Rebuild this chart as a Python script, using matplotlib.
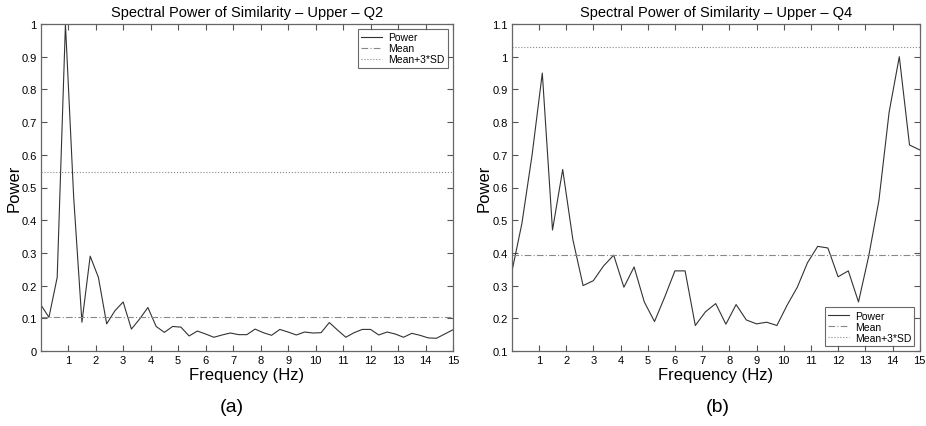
import numpy as np
import matplotlib
matplotlib.use("Agg")
import matplotlib.pyplot as plt

plt.rcParams['font.family'] = ['Liberation Sans', 'DejaVu Sans']

# Panel (a) data: frequency step 0.3 Hz
freq_a = [round(0.3 * i, 2) for i in range(51)]
power_a = [0.142, 0.103, 0.225, 1.0, 0.47, 0.088, 0.29, 0.225, 0.083, 0.123,
           0.15, 0.067, 0.098, 0.133, 0.075, 0.057, 0.075, 0.073, 0.046, 0.061,
           0.052, 0.042, 0.049, 0.055, 0.05, 0.05, 0.067, 0.056, 0.048, 0.066,
           0.058, 0.049, 0.058, 0.055, 0.056, 0.087, 0.064, 0.042, 0.056, 0.066,
           0.066, 0.049, 0.058, 0.052, 0.042, 0.054, 0.048, 0.04, 0.039, 0.052,
           0.065]
mean_a = 0.103
thr_a = 0.548

# Panel (b) data: frequency step 0.375 Hz
freq_b = [0.375 * i for i in range(41)]
power_b = [0.34, 0.49, 0.70, 0.95, 0.47, 0.655, 0.44, 0.30, 0.315, 0.36,
           0.393, 0.295, 0.357, 0.25, 0.19, 0.265, 0.345, 0.345, 0.178, 0.22,
           0.245, 0.182, 0.242, 0.195, 0.183, 0.188, 0.178, 0.24, 0.295, 0.37,
           0.42, 0.415, 0.327, 0.345, 0.25, 0.39, 0.56, 0.83, 1.0, 0.73,
           0.715]
mean_b = 0.395
thr_b = 1.03

titles = ["Spectral Power of Similarity \u2013 Upper \u2013 Q2",
          "Spectral Power of Similarity \u2013 Upper \u2013 Q4"]
xticks = list(range(1, 16))
yticks_a = [round(0.1 * i, 1) for i in range(11)]
yticks_b = [round(0.1 * i, 1) for i in range(1, 12)]
ylabels_a = ["0", "0.1", "0.2", "0.3", "0.4", "0.5", "0.6", "0.7", "0.8", "0.9", "1"]
ylabels_b = ["0.1", "0.2", "0.3", "0.4", "0.5", "0.6", "0.7", "0.8", "0.9", "1", "1.1"]
panel_labels = ["(a)", "(b)"]

W, H = 926, 427
fig = plt.figure(figsize=(W / 100, H / 100), dpi=100)

ax_a = fig.add_axes([40.7 / W, 1 - 352 / H, 412.3 / W, 327 / H])
ax_b = fig.add_axes([511.7 / W, 1 - 352 / H, 408 / W, 327 / H])

specs = [
    (ax_a, freq_a, power_a, mean_a, thr_a, (0, 1), yticks_a, ylabels_a, 'upper right'),
    (ax_b, freq_b, power_b, mean_b, thr_b, (0.1, 1.1), yticks_b, ylabels_b, 'lower right'),
]

for i, (ax, fx, py, m, t, ylim, yt, ytl, loc) in enumerate(specs):
    ax.plot(fx, py, color='#333333', lw=0.8, label='Power')
    ax.axhline(m, color='#888888', lw=0.8, ls='-.', dashes=(6, 2, 1, 2), label='Mean')
    ax.axhline(t, color='#888888', lw=0.8, ls=':', label='Mean+3*SD')
    ax.set_xlim(0, 15)
    ax.set_ylim(*ylim)
    ax.set_xticks(xticks)
    ax.set_xticklabels([str(v) for v in xticks])
    ax.set_yticks(yt)
    ax.set_yticklabels(ytl)
    ax.tick_params(direction='in', top=True, right=True, length=4, width=0.8,
                   labelsize=8, pad=3, color='#555555')
    for s in ax.spines.values():
        s.set_color('#666666')
        s.set_linewidth(0.9)
    ax.set_title(titles[i], fontsize=10.5, pad=6)
    ax.set_xlabel('Frequency (Hz)', fontsize=12, labelpad=1)
    ax.set_ylabel('Power', fontsize=12, labelpad=0)
    leg = ax.legend(loc=loc, fontsize=7.5, frameon=True, fancybox=False,
                    edgecolor='#444444', handlelength=2.0, borderpad=0.3,
                    labelspacing=0.1, borderaxespad=0.5, handletextpad=0.6)
    leg.get_frame().set_linewidth(0.8)

fig.text(232 / W, 1 - 408 / H, panel_labels[0], ha='center', va='center', fontsize=14)
fig.text(718 / W, 1 - 408 / H, panel_labels[1], ha='center', va='center', fontsize=14)

fig.savefig('out.png', dpi=100, facecolor='white')
